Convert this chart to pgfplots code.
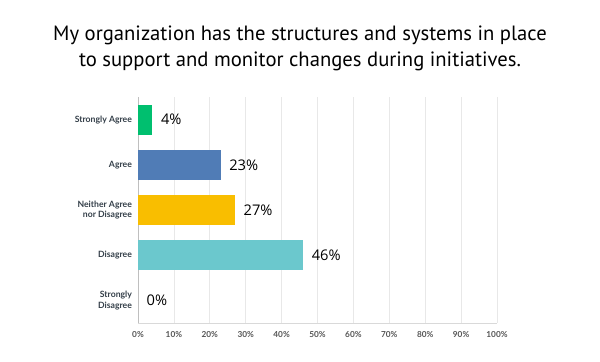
\documentclass[border=0pt]{standalone}
\usepackage{fontspec}
\setmainfont{PT Sans}
\newfontfamily\tickfont{Lato}
\newfontfamily\valfont{Open Sans}
\usepackage{pgfplots}
\pgfplotsset{compat=1.18}
\definecolor{cgreen}{HTML}{00BF6F}
\definecolor{cblue}{HTML}{507CB6}
\definecolor{cyellow}{HTML}{F9BE00}
\definecolor{cteal}{HTML}{6BC8CD}
\definecolor{ylab}{HTML}{333E48}
\definecolor{xlab}{HTML}{555555}
\begin{document}
\begin{tikzpicture}
\path (0,0) rectangle (450pt,270.75pt);
\node[anchor=base, align=center, font=\fontsize{15.5}{19.5}\selectfont, text=black] at (225pt,220.5pt)
  {My organization has the structures and systems in place\\to support and monitor changes during initiatives.};
\begin{axis}[
  at={(103.5pt,28.5pt)}, anchor=south west,
  scale only axis, width=269.25pt, height=169.5pt,
  xbar, bar width=22.5pt,
  xmin=0, xmax=100, ymin=-0.5, ymax=4.5, y dir=reverse,
  xtick={0,10,...,100},
  xticklabels={0\%,10\%,20\%,30\%,40\%,50\%,60\%,70\%,80\%,90\%,100\%},
  ytick={0,1,2,3,4},
  yticklabels={Strongly Agree,Agree,{Neither Agree\\nor Disagree},Disagree,{Strongly\\Disagree}},
  yticklabel style={align=right, font=\tickfont\bfseries\fontsize{6.5}{8}\selectfont, text=ylab, xshift=-1pt},
  xticklabel style={font=\tickfont\bfseries\fontsize{6.2}{7}\selectfont, text=xlab, yshift=-3pt},
  major tick length=0pt,
  axis x line*=bottom, axis y line*=left,
  x axis line style={draw=black!15, -},
  y axis line style={draw=black!25, -},
  xmajorgrids, grid style={draw=black!9, line width=0.6pt},
  nodes near coords={\pgfmathprintnumber{\pgfplotspointmeta}\%},
  /pgf/number format/assume math mode=true,
  point meta=x,
  every node near coord/.append style={font=\valfont\fontsize{11}{13}\selectfont, text=black, xshift=3pt},
  clip=false,
]
\addplot[fill=cgreen, draw=none, bar shift=0pt] coordinates {(4,0)};
\addplot[fill=cblue, draw=none, bar shift=0pt] coordinates {(23,1)};
\addplot[fill=cyellow, draw=none, bar shift=0pt] coordinates {(27,2)};
\addplot[fill=cteal, draw=none, bar shift=0pt] coordinates {(46,3)};
\addplot[fill=none, draw=none, bar shift=0pt] coordinates {(0,4)};
\end{axis}
\end{tikzpicture}
\end{document}
